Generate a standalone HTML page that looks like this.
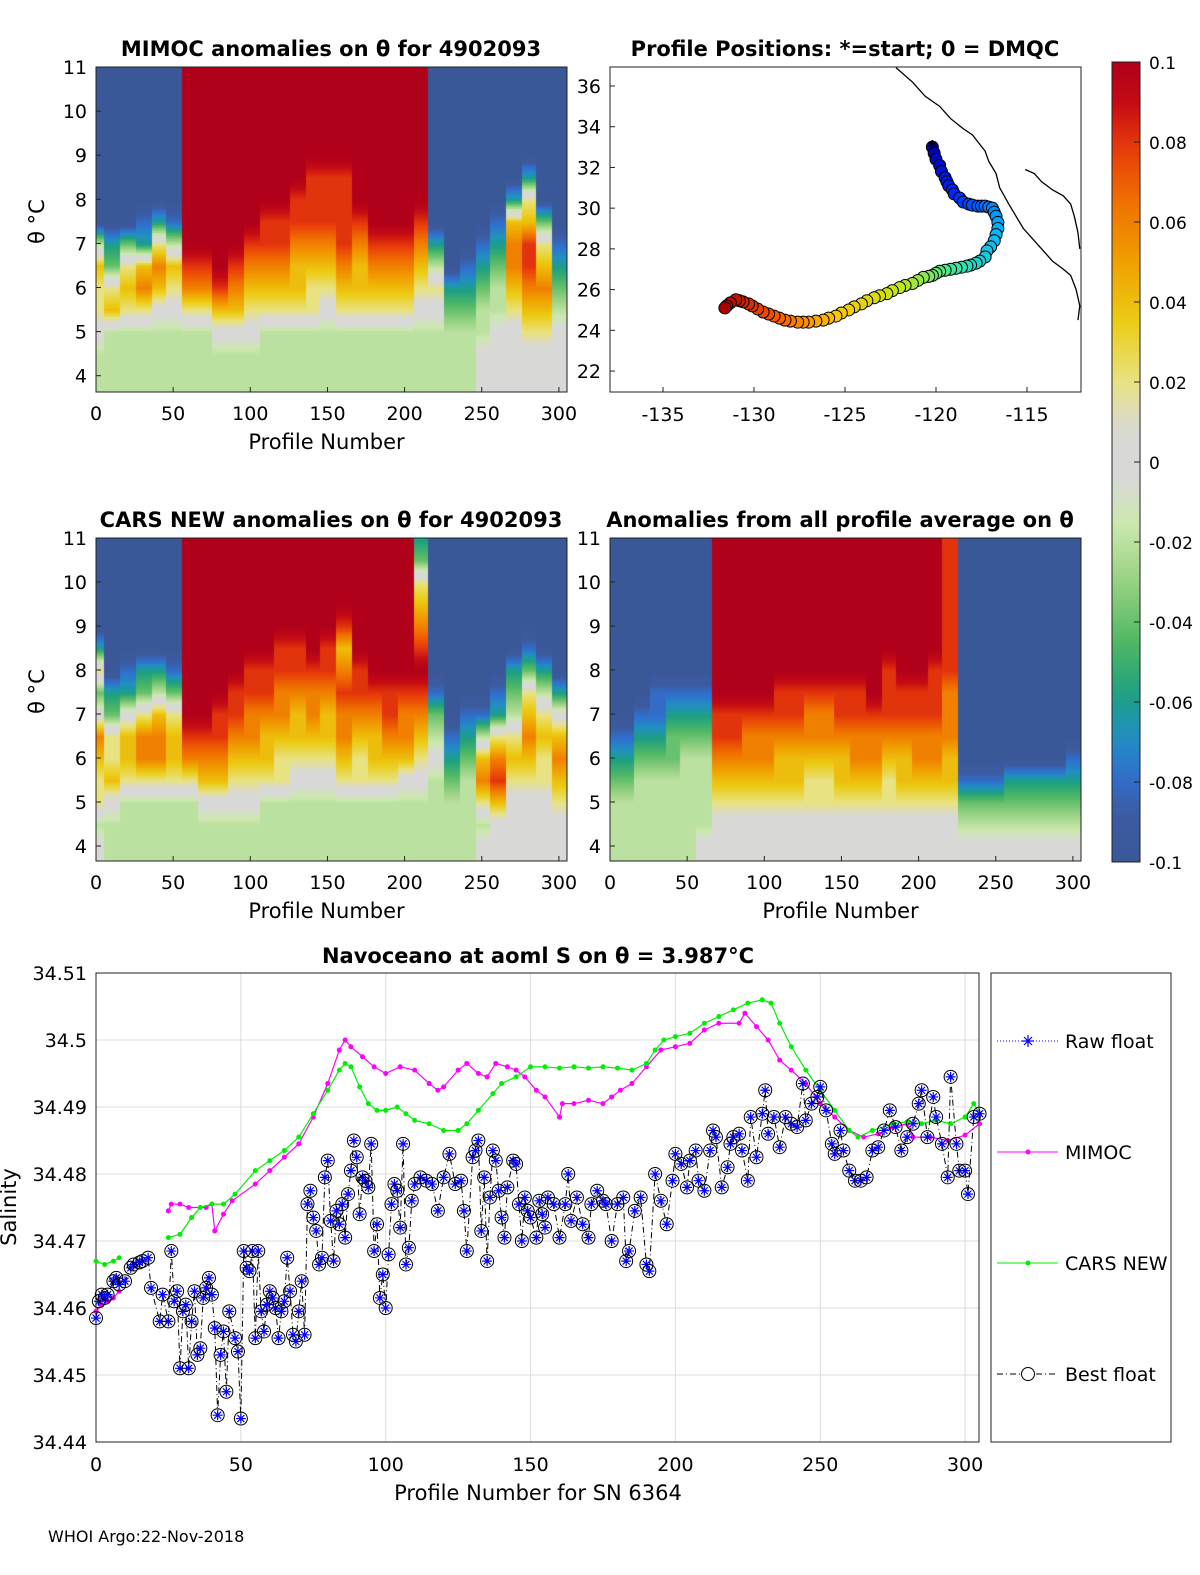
<!DOCTYPE html>
<html><head><meta charset="utf-8">
<style>
body{margin:0;background:#fff;width:1200px;height:1575px;position:relative;overflow:hidden;font-family:"Liberation Sans","DejaVu Sans",sans-serif}
canvas{position:absolute}
svg{position:absolute;left:0;top:0}
text{font-family:"DejaVu Sans","Liberation Sans",sans-serif}
</style></head><body>
<canvas id="c1" style="left:96px;top:67px" width="471" height="325"></canvas>
<canvas id="c3" style="left:96px;top:538px" width="471" height="323"></canvas>
<canvas id="c4" style="left:610px;top:538px" width="471" height="323"></canvas>
<svg id="s" width="1200" height="1575"></svg>
<script>
// ---------- data ----------
const heatProfiles=[0,10,20,30,40,50,60,70,80,90,100,110,120,130,140,150,160,170,180,190,200,210,220,230,240,250,260,270,280,290,300];
const heatLevels=[4,4.5,5,5.5,6,6.5,7,7.5,8,8.5,9,9.5,10,10.5,11];
const mimocGrid=[
[-1,-1,0,1,1,2,-1,-5,-5,-5,-5,-5,-5,-5,-5],[-1,-1,-1,2,1,-2,-3,-5,-5,-5,-5,-5,-5,-5,-5],
[-1,-1,-1,1,2,1,-2,-5,-5,-5,-5,-5,-5,-5,-5],[-1,-1,-1,1,3,2,-3,-4,-5,-5,-5,-5,-5,-5,-5],
[-1,-1,-1,0,2,3,1,-3,-5,-5,-5,-5,-5,-5,-5],[-1,-1,-1,0,1,2,-1,-4,-5,-5,-5,-5,-5,-5,-5],
[-1,-1,-1,1,3,4,5,5,5,5,5,5,5,5,5],[-1,-1,-1,1,3,4,5,5,5,5,5,5,5,5,5],
[-1,-1,0,2,4,5,5,5,5,5,5,5,5,5,5],[-1,-1,0,2,3,4,5,5,5,5,5,5,5,5,5],
[-1,-1,0,1,2,3,4,5,5,5,5,5,5,5,5],[-1,-1,-1,1,2,3,4,4,5,5,5,5,5,5,5],
[-1,-1,-1,1,2,3,4,4,5,5,5,5,5,5,5],[-1,-1,-1,1,2,2,3,4,4,5,5,5,5,5,5],
[-1,-1,-1,1,1,2,3,4,4,4,5,5,5,5,5],[-1,-1,-1,0,1,2,3,4,4,4,5,5,5,5,5],
[-1,-1,-1,1,2,3,4,4,4,4,5,5,5,5,5],[-1,-1,-1,1,2,2,3,4,5,5,5,5,5,5,5],
[-1,-1,-1,1,2,3,4,5,5,5,5,5,5,5,5],[-1,-1,-1,1,2,3,4,5,5,5,5,5,5,5,5],
[-1,-1,-1,1,2,3,4,5,5,5,5,5,5,5,5],[-1,-1,-1,0,1,2,3,4,5,5,5,5,5,5,5],
[-1,-1,-1,0,1,-1,-3,-5,-5,-5,-5,-5,-5,-5,-5],[-1,-1,-1,-2,-3,-5,-5,-5,-5,-5,-5,-5,-5,-5,-5],
[-1,-1,-1,-2,-3,-4,-5,-5,-5,-5,-5,-5,-5,-5,-5],[0,0,-1,-1,-2,-3,-4,-5,-5,-5,-5,-5,-5,-5,-5],
[0,0,0,-1,-1,-2,-3,-4,-5,-5,-5,-5,-5,-5,-5],[0,0,0,1,2,3,3,2,-3,-5,-5,-5,-5,-5,-5],
[0,0,1,2,3,4,4,2,1,-3,-5,-5,-5,-5,-5],[0,0,1,2,3,2,1,-2,-5,-5,-5,-5,-5,-5,-5],
[0,0,0,-1,-2,-3,-4,-5,-5,-5,-5,-5,-5,-5,-5]];
const carsGrid=[
[0,-1,1,1,2,3,0,-2,1,-3,-5,-5,-5,-5,-5],[-1,-1,0,2,1,1,-2,-3,-5,-5,-5,-5,-5,-5,-5],
[-1,-1,-1,1,2,2,0,-3,-4,-5,-5,-5,-5,-5,-5],[-1,-1,-1,1,3,3,1,-2,-3,-5,-5,-5,-5,-5,-5],
[-1,-1,-1,1,3,3,2,-1,-3,-5,-5,-5,-5,-5,-5],[-1,-1,-1,1,2,2,1,-2,-4,-5,-5,-5,-5,-5,-5],
[-1,-1,-1,1,3,4,5,5,5,5,5,5,5,5,5],[-1,-1,0,2,3,4,5,5,5,5,5,5,5,5,5],
[-1,-1,0,2,3,4,4,5,5,5,5,5,5,5,5],[-1,-1,0,1,2,3,4,4,5,5,5,5,5,5,5],
[-1,-1,0,1,2,3,3,4,4,5,5,5,5,5,5],[-1,-1,-1,1,2,2,3,4,4,5,5,5,5,5,5],
[-1,-1,-1,1,1,2,3,3,4,4,5,5,5,5,5],[-1,-1,-1,0,1,2,2,3,4,4,5,5,5,5,5],
[-1,-1,-1,0,1,2,3,3,4,5,5,5,5,5,5],[-1,-1,-1,0,1,2,2,3,4,4,5,5,5,5,5],
[-1,-1,-1,1,2,3,3,4,3,2,4,5,5,5,5],[-1,-1,-1,1,1,2,3,4,4,5,5,5,5,5,5],
[-1,-1,-1,1,2,2,3,4,5,5,5,5,5,5,5],[-1,-1,-1,1,2,3,4,4,5,5,5,5,5,5,5],
[-1,-1,-1,0,2,3,3,4,5,5,5,5,5,5,5],[-1,-1,-1,0,1,2,3,4,5,4,3,2,1,-2,-3],
[-1,-1,-1,-1,0,-1,-2,-4,-5,-5,-5,-5,-5,-5,-5],[-1,-1,-1,-2,-3,-4,-5,-5,-5,-5,-5,-5,-5,-5,-5],
[-1,-1,-1,-1,-2,-3,-4,-5,-5,-5,-5,-5,-5,-5,-5],[0,-1,1,3,2,-1,-4,-5,-5,-5,-5,-5,-5,-5,-5],
[0,0,2,4,3,1,-3,-4,-5,-5,-5,-5,-5,-5,-5],[0,0,0,1,2,1,-1,-2,-3,-5,-5,-5,-5,-5,-5],
[0,0,0,1,2,3,2,1,-2,-4,-5,-5,-5,-5,-5],[0,0,0,1,1,2,1,-1,-3,-5,-5,-5,-5,-5,-5],
[0,0,1,2,3,2,0,-3,-5,-5,-5,-5,-5,-5,-5]];
const avgGrid=[
[-1,-1,-1,-2,-3,-4,-5,-5,-5,-5,-5,-5,-5,-5,-5],[-1,-1,-1,-2,-3,-4,-5,-5,-5,-5,-5,-5,-5,-5,-5],
[-1,-1,-1,-1,-2,-3,-4,-5,-5,-5,-5,-5,-5,-5,-5],[-1,-1,-1,-1,-2,-3,-4,-4,-5,-5,-5,-5,-5,-5,-5],
[-1,-1,-1,-1,-2,-2,-3,-4,-5,-5,-5,-5,-5,-5,-5],[-1,-1,-1,-1,-1,-2,-3,-4,-5,-5,-5,-5,-5,-5,-5],
[0,-1,-1,-1,-1,-2,-3,-4,-5,-5,-5,-5,-5,-5,-5],[0,0,1,2,3,4,4,5,5,5,5,5,5,5,5],
[0,0,1,2,3,4,4,5,5,5,5,5,5,5,5],[0,0,1,2,3,3,4,5,5,5,5,5,5,5,5],
[0,0,1,2,3,3,4,5,5,5,5,5,5,5,5],[0,0,1,2,2,3,4,4,5,5,5,5,5,5,5],
[0,0,1,2,2,3,4,4,5,5,5,5,5,5,5],[0,0,1,1,2,3,3,4,5,5,5,5,5,5,5],
[0,0,1,1,2,3,3,4,5,5,5,5,5,5,5],[0,0,1,2,2,3,4,4,5,5,5,5,5,5,5],
[0,0,1,2,3,3,4,4,5,5,5,5,5,5,5],[0,0,1,2,3,3,4,5,5,5,5,5,5,5,5],
[0,0,1,1,2,3,4,4,4,5,5,5,5,5,5],[0,0,1,2,2,3,4,4,5,5,5,5,5,5,5],
[0,0,1,2,3,3,4,4,5,5,5,5,5,5,5],[0,0,1,2,3,3,4,4,4,5,5,5,5,5,5],
[0,0,1,2,2,3,3,3,4,4,4,4,4,4,4],[0,-1,-2,-4,-5,-5,-5,-5,-5,-5,-5,-5,-5,-5,-5],
[0,-1,-2,-4,-5,-5,-5,-5,-5,-5,-5,-5,-5,-5,-5],[0,-1,-2,-4,-5,-5,-5,-5,-5,-5,-5,-5,-5,-5,-5],
[0,-1,-2,-3,-5,-5,-5,-5,-5,-5,-5,-5,-5,-5,-5],[0,-1,-2,-3,-5,-5,-5,-5,-5,-5,-5,-5,-5,-5,-5],
[0,-1,-2,-3,-5,-5,-5,-5,-5,-5,-5,-5,-5,-5,-5],[0,-1,-2,-3,-5,-5,-5,-5,-5,-5,-5,-5,-5,-5,-5],
[0,-1,-2,-3,-4,-5,-5,-5,-5,-5,-5,-5,-5,-5,-5]];
const colorbarTicks=[0.1,0.08,0.06,0.04,0.02,0,-0.02,-0.04,-0.06,-0.08,-0.1];
const trackLon=[-120.2,-120.1,-120,-119.8,-119.7,-119.5,-119.4,-119.3,-119.1,-119,-118.7,-118.5,-118.2,-118,-117.7,-117.5,-117.3,-117.1,-116.9,-116.8,-116.7,-116.6,-116.6,-116.7,-116.8,-117,-117.2,-117.3,-117.6,-117.8,-118.1,-118.3,-118.6,-118.9,-119.2,-119.5,-119.8,-120,-120.2,-120.4,-120.7,-121,-121.3,-121.7,-122,-122.4,-122.7,-123.1,-123.4,-123.8,-124.1,-124.5,-124.8,-125.2,-125.5,-125.9,-126.2,-126.6,-127,-127.3,-127.6,-128,-128.3,-128.6,-128.9,-129.2,-129.5,-129.8,-130.1,-130.3,-130.6,-130.8,-131,-131.3,-131.5,-131.6];
const trackLat=[33,32.7,32.4,32.1,31.8,31.5,31.3,31.1,30.9,30.7,30.5,30.3,30.2,30.15,30.1,30.1,30.1,30.05,30,29.8,29.6,29.3,29,28.7,28.4,28.1,27.9,27.6,27.4,27.3,27.2,27.15,27.1,27.05,27,26.95,26.9,26.8,26.7,26.65,26.6,26.45,26.3,26.2,26.1,25.95,25.8,25.7,25.6,25.45,25.3,25.15,25,24.85,24.7,24.6,24.5,24.45,24.4,24.4,24.4,24.45,24.5,24.6,24.7,24.8,24.9,25.05,25.2,25.3,25.4,25.45,25.5,25.35,25.2,25.1];
const coastLon=[-122.2,-121.3,-120.6,-119.8,-119.2,-118.5,-118,-117.3,-117.1,-116.7,-116.5,-116,-115.6,-115.2,-114.7,-114.3,-114,-113.6,-113,-112.6,-112.3,-112.1,-112.2];
const coastLat=[36.9,36.2,35.5,35,34.4,33.9,33.6,32.8,32.3,31.7,31,30.2,29.6,29,28.5,28.1,27.8,27.4,27,26.7,26,25.2,24.5];
const gulfLon=[-115.1,-114.6,-114.2,-113.6,-113,-112.6,-112.4,-112.2,-112.1];
const gulfLat=[31.9,31.7,31.3,30.9,30.6,30.2,29.6,28.8,28];
const bestP=[0,1,2,3,4,6,7,8,10,12,13,15,16,18,19,22,23,25,26,27,28,29,30,31,32,33,34,35,36,37,38,39,40,41,42,43,44,45,46,48,49,50,51,52,53,54,55,56,57,58,59,60,61,62,63,64,65,66,67,68,69,70,71,72,73,74,75,76,77,78,79,80,81,82,83,84,85,86,87,88,89,90,91,92,93,94,95,96,97,98,99,100,101,102,103,104,105,106,107,108,109,110,112,114,116,118,120,122,124,126,127,128,130,131,132,133,134,135,136,137,138,139,140,141,142,144,145,146,147,148,149,150,152,153,154,155,156,158,160,162,163,164,166,168,170,171,173,175,176,178,180,182,183,184,186,188,190,191,193,195,197,199,200,202,204,205,207,208,210,212,213,214,216,218,219,220,222,223,225,226,228,230,231,232,234,236,238,240,242,244,245,247,249,250,252,254,255,257,258,260,262,264,266,268,270,272,274,276,278,280,282,284,285,287,289,290,292,294,295,297,298,300,301,303,305];
const bestS=[34.4585,34.461,34.462,34.4615,34.462,34.464,34.4645,34.4635,34.464,34.466,34.4665,34.4668,34.467,34.4675,34.463,34.458,34.462,34.458,34.4685,34.461,34.4625,34.451,34.4595,34.4605,34.451,34.458,34.4625,34.453,34.454,34.4615,34.463,34.4645,34.462,34.457,34.444,34.453,34.4565,34.4475,34.4595,34.4555,34.4535,34.4435,34.4685,34.466,34.4655,34.4685,34.4555,34.4685,34.4595,34.4565,34.4605,34.4625,34.4615,34.46,34.4555,34.4595,34.461,34.4675,34.4625,34.456,34.455,34.4595,34.464,34.456,34.4755,34.4775,34.4735,34.4715,34.4665,34.4675,34.4795,34.482,34.473,34.467,34.4745,34.4725,34.4755,34.4705,34.477,34.4805,34.485,34.4825,34.474,34.4795,34.479,34.478,34.4845,34.4685,34.4725,34.4615,34.465,34.46,34.468,34.4755,34.4785,34.4775,34.472,34.4845,34.4665,34.469,34.476,34.4785,34.4795,34.479,34.4785,34.4745,34.4795,34.483,34.4785,34.479,34.4745,34.4685,34.4825,34.4835,34.485,34.4715,34.4795,34.467,34.4765,34.4835,34.482,34.4775,34.4735,34.4705,34.478,34.482,34.4815,34.4755,34.47,34.4765,34.4745,34.4735,34.4705,34.476,34.474,34.472,34.4765,34.4755,34.4705,34.4755,34.48,34.473,34.4765,34.4725,34.4705,34.4755,34.4775,34.476,34.4755,34.47,34.4755,34.4765,34.467,34.4685,34.4745,34.4765,34.4665,34.4655,34.48,34.476,34.4725,34.479,34.483,34.4815,34.478,34.482,34.4835,34.479,34.4775,34.4835,34.4865,34.4855,34.478,34.481,34.4845,34.4855,34.486,34.4835,34.479,34.4885,34.4825,34.489,34.4925,34.486,34.4885,34.484,34.4885,34.4875,34.487,34.4935,34.488,34.4905,34.4915,34.493,34.4895,34.4845,34.483,34.4865,34.4835,34.4805,34.479,34.479,34.4795,34.4835,34.484,34.4865,34.4895,34.487,34.4835,34.4855,34.4875,34.4905,34.4925,34.4855,34.4915,34.4885,34.4845,34.4795,34.4945,34.4845,34.4805,34.4805,34.477,34.4885,34.489];
const mimocP=[[0,2,4,6,8],[25,26,29,32,38,40,41,44,47,55,60,65,70,75,80,84,86,88,92,96,100,105,110,115,118,120,125,128,132,135,138,142,145,148,152,155,160,161,165,170,175,178,181,185,190,195,200,205,210,215,222,224,228,232,236,240,245,250,255,260,265,270,275,280,282,288,294,300,305]];
const mimocS=[[34.4595,34.4605,34.461,34.4615,34.4625],[34.4745,34.4755,34.4755,34.475,34.475,34.4755,34.4715,34.474,34.476,34.4785,34.4805,34.4825,34.4845,34.4885,34.4935,34.4985,34.5,34.499,34.4975,34.496,34.495,34.496,34.4955,34.4935,34.4925,34.493,34.4955,34.4965,34.495,34.4945,34.4965,34.496,34.4955,34.4945,34.4925,34.4915,34.4885,34.4905,34.4905,34.491,34.4905,34.4915,34.4925,34.4935,34.496,34.4985,34.499,34.4995,34.5015,34.5025,34.5025,34.504,34.502,34.5,34.497,34.4955,34.4935,34.4905,34.4885,34.4865,34.4855,34.486,34.487,34.4875,34.4855,34.4855,34.485,34.4858,34.4875]];
const carsP=[[0,3,6,8],[25,29,33,36,40,44,48,55,60,65,70,75,80,84,86,88,91,94,97,100,104,107,110,115,120,125,128,132,137,140,145,150,155,160,165,170,175,180,185,190,193,196,200,205,210,215,220,225,230,233,236,240,245,250,255,260,263,268,275,280,285,290,295,300,303,305]];
const carsS=[[34.467,34.4665,34.467,34.4675],[34.4705,34.471,34.4735,34.475,34.4755,34.4755,34.477,34.4805,34.482,34.4835,34.4855,34.489,34.4925,34.4955,34.4965,34.496,34.493,34.4905,34.4895,34.4895,34.49,34.489,34.488,34.4875,34.4865,34.4865,34.4875,34.4895,34.492,34.4935,34.4945,34.496,34.496,34.4958,34.496,34.4958,34.496,34.4958,34.4955,34.4965,34.4985,34.5,34.5005,34.501,34.5025,34.5035,34.5045,34.5055,34.506,34.5055,34.5025,34.499,34.4955,34.4925,34.4895,34.4865,34.4855,34.4865,34.4875,34.4878,34.4875,34.488,34.4875,34.4885,34.4905,34.489]];
const salTicks=[34.44,34.45,34.46,34.47,34.48,34.49,34.5,34.51];
const profTicks=[0,50,100,150,200,250,300];
const thetaTicks=[4,5,6,7,8,9,10,11];

// ---------- colormaps ----------
const stops=[[-0.1,[58,88,152]],[-0.088,[60,90,160]],[-0.078,[48,112,208]],[-0.068,[32,144,192]],[-0.058,[30,160,128]],[-0.045,[80,184,100]],[-0.03,[150,210,130]],[-0.015,[205,232,175]],[-0.004,[216,216,216]],[0.008,[216,216,214]],[0.02,[232,226,130]],[0.035,[236,204,20]],[0.05,[240,160,0]],[0.065,[240,112,0]],[0.078,[232,60,10]],[0.09,[196,10,20]],[0.1,[176,0,26]]];
function cmap(v){v=Math.max(-0.1,Math.min(0.1,v));for(let i=1;i<stops.length;i++){if(v<=stops[i][0]){const a=stops[i-1],b=stops[i],t=(v-a[0])/(b[0]-a[0]);return 'rgb('+a[1].map((c,k)=>Math.round(c+(b[1][k]-c)*t)).join(',')+')';}}return 'rgb(176,0,26)';}
const jetStops=[[0,[0,0,170]],[0.12,[0,40,255]],[0.3,[0,180,255]],[0.45,[60,230,160]],[0.6,[200,230,20]],[0.72,[250,200,0]],[0.85,[250,90,0]],[1,[170,0,0]]];
function jet(t){for(let i=1;i<jetStops.length;i++){if(t<=jetStops[i][0]){const a=jetStops[i-1],b=jetStops[i],f=(t-a[0])/(b[0]-a[0]);return 'rgb('+a[1].map((c,k)=>Math.round(c+(b[1][k]-c)*f)).join(',')+')';}}return 'rgb(170,0,0)';}
function gridVal(g,p,th){
  const ci=Math.max(0,Math.min(30,Math.round(p/10)));
  let ri=(th-4)/0.5;ri=Math.max(0,Math.min(14,ri));const r0=Math.floor(ri),r1=Math.min(14,r0+1),fr=ri-r0;
  return (g[ci][r0]*(1-fr)+g[ci][r1]*fr)*0.02;}
function drawHeat(id,g,pxPerDeg){
  const cv=document.getElementById(id),ctx=cv.getContext('2d');
  for(let x=0;x<cv.width;x+=2){const p=x/1.543;
    for(let y=0;y<cv.height;y+=2){const th=11-y/pxPerDeg;
      ctx.fillStyle=cmap(gridVal(g,p,th));ctx.fillRect(x,y,2,2);}}}
drawHeat('c1',mimocGrid,44.1);
drawHeat('c3',carsGrid,44);
drawHeat('c4',avgGrid,44);

// ---------- svg ----------
const S=document.getElementById('s');const NS='http://www.w3.org/2000/svg';
function el(tag,attrs,parent){const e=document.createElementNS(NS,tag);for(const k in attrs)e.setAttribute(k,attrs[k]);(parent||S).appendChild(e);return e;}
function txt(x,y,s,size,anchor,weight,name){const t=el('text',{x:x,y:y,'font-size':size,'text-anchor':anchor||'start','font-weight':weight||'normal',fill:'#000'});t.textContent=s;


return t;}

function heatAxes(x0,y0,w,h,pxDeg,yLab,xLab,titleX,title){
  el('rect',{x:x0,y:y0,width:w,height:h,fill:'none',stroke:'#222','stroke-width':1});
  profTicks.forEach(p=>{const x=x0+p*1.543;el('line',{x1:x,x2:x,y1:y0+h,y2:y0+h-5,stroke:'#222'});
    txt(x,y0+h+28,String(p),19,'middle','normal','x-tick-label');});
  thetaTicks.forEach(t=>{const y=y0+(11-t)*pxDeg;el('line',{x1:x0,x2:x0+5,y1:y,y2:y,stroke:'#222'});
    txt(x0-9,y+7,String(t),19,'end','normal','y-tick-label');});
  if(xLab)txt(x0+w/2-5,y0+h+57,'Profile Number',21,'middle','normal','x-axis-title');
  if(yLab){const t=txt(0,0,'θ °C',21,'middle','normal','y-axis-title');t.setAttribute('transform','translate('+(x0-52)+','+(y0+h/2-8)+') rotate(-90)');}
  txt(titleX,y0-11,title,21,'middle','bold','panel-title');
}
heatAxes(96,67,471,325,44.1,true,true,331,'MIMOC anomalies on θ  for 4902093');
heatAxes(96,538,471,323,44,true,true,331,'CARS NEW anomalies on θ for 4902093');
heatAxes(610,538,471,323,44,false,true,840,'Anomalies from all profile average on θ');

// map
const mx=lon=>663+(lon+135)*18.2, my=lat=>86+(36-lat)*20.36;
el('rect',{x:610,y:67,width:471,height:325,fill:'#fff',stroke:'#222'});
[-135,-130,-125,-120,-115].forEach(l=>{const x=mx(l);el('line',{x1:x,x2:x,y1:392,y2:387,stroke:'#222'});txt(x,421,String(l),19,'middle','normal','map-x-tick');});
[22,24,26,28,30,32,34,36].forEach(l=>{const y=my(l);el('line',{x1:610,x2:615,y1:y,y2:y,stroke:'#222'});txt(601,y+7,String(l),19,'end','normal','map-y-tick');});
txt(845,56,'Profile Positions: *=start; 0 = DMQC',21,'middle','bold','map-title');
const coast=el('polyline',{points:coastLon.map((l,i)=>mx(l)+','+my(coastLat[i])).join(' '),fill:'none',stroke:'#000','stroke-width':1.3});

const gulf=el('polyline',{points:gulfLon.map((l,i)=>mx(l)+','+my(gulfLat[i])).join(' '),fill:'none',stroke:'#000','stroke-width':1.3});

const nT=trackLon.length;
trackLon.forEach((l,i)=>{const c=el('circle',{cx:mx(l),cy:my(trackLat[i]),r:6,fill:jet(i/(nT-1)),stroke:'#000','stroke-width':1});
});
txt(mx(trackLon[0]),my(trackLat[0])+6,'*',18,'middle','bold','start-marker');

// colorbar
const defs=el('defs',{});const lg=el('linearGradient',{id:'cb',x1:0,y1:1,x2:0,y2:0},defs);
for(let i=0;i<=40;i++){const v=-0.1+0.2*i/40;el('stop',{offset:(i/40),'stop-color':cmap(v)},lg);}
const cb=el('rect',{x:1112,y:62,width:28,height:800,fill:'url(#cb)',stroke:'#222'});

colorbarTicks.forEach(v=>{const y=62+(0.1-v)/0.2*800;el('line',{x1:1134,x2:1140,y1:y,y2:y,stroke:'#222'});txt(1149,y+7,String(v),17,'start','normal','colorbar-tick');});

// bottom chart
const sx=p=>96+p*2.897, sy=v=>973+(34.51-v)*6700;
el('rect',{x:96,y:973,width:883,height:469,fill:'#fff',stroke:'#222'});
profTicks.forEach(p=>{const x=sx(p);el('line',{x1:x,x2:x,y1:973,y2:1442,stroke:'#dcdcdc'});txt(x,1471,String(p),19,'middle','normal','x-tick-label');});
salTicks.forEach(v=>{const y=sy(v);el('line',{x1:96,x2:979,y1:y,y2:y,stroke:'#dcdcdc'});txt(87,y+7,String(v),19,'end','normal','y-tick-label');});
el('rect',{x:96,y:973,width:883,height:469,fill:'none',stroke:'#222'});
txt(538,1500,'Profile Number for SN 6364',21,'middle','normal','x-axis-title');
const yl=txt(0,0,'Salinity',21,'middle','normal','y-axis-title');yl.setAttribute('transform','translate(16,1207) rotate(-90)');
txt(538,963,'Navoceano at aoml S on θ = 3.987°C',21,'middle','bold','chart-title');
function series(Ps,Vs,color,name){Ps.forEach((P,k)=>{
  const pl=el('polyline',{points:P.map((p,i)=>sx(p)+','+sy(Vs[k][i])).join(' '),fill:'none',stroke:color,'stroke-width':1.2});
  
  P.forEach((p,i)=>{const c=el('circle',{cx:sx(p),cy:sy(Vs[k][i]),r:2.5,fill:color});
  });});}
series(mimocP,mimocS,'#ff00ff','mimoc');
series(carsP,carsS,'#00ee00','cars-new');
const bl=el('polyline',{points:bestP.map((p,i)=>sx(p)+','+sy(bestS[i])).join(' '),fill:'none',stroke:'#000','stroke-width':1,'stroke-dasharray':'6,3,1,3'});

function marker(x,y,parentName){
  const g=el('g',{});
  el('circle',{cx:x,cy:y,r:6.5,fill:'none',stroke:'#000','stroke-width':1},g);
  el('path',{d:`M${x-5},${y}H${x+5}M${x},${y-5}V${y+5}M${x-3.5},${y-3.5}L${x+3.5},${y+3.5}M${x-3.5},${y+3.5}L${x+3.5},${y-3.5}`,stroke:'#0000ff','stroke-width':1.2},g);}
bestP.forEach((p,i)=>marker(sx(p),sy(bestS[i]),'best-float-point'));

// legend
const lgBox=el('rect',{x:991,y:973,width:180,height:469,fill:'#fff',stroke:'#222'});

el('line',{x1:997,x2:1058,y1:1041,y2:1041,stroke:'#0000ff','stroke-dasharray':'1,2'});
el('path',{d:'M1022,1041h12M1028,1035v12M1024,1037l8,8M1024,1045l8,-8',stroke:'#0000ff','stroke-width':1.2});
txt(1065,1048,'Raw float',19,'start','normal','legend-raw-float');
el('line',{x1:997,x2:1058,y1:1152,y2:1152,stroke:'#ff00ff'});el('circle',{cx:1028,cy:1152,r:2.5,fill:'#ff00ff'});
txt(1065,1159,'MIMOC',19,'start','normal','legend-mimoc');
el('line',{x1:997,x2:1058,y1:1263,y2:1263,stroke:'#00ee00'});el('circle',{cx:1028,cy:1263,r:2.5,fill:'#00ee00'});
txt(1065,1270,'CARS NEW',19,'start','normal','legend-cars-new');
el('line',{x1:997,x2:1058,y1:1374,y2:1374,stroke:'#000','stroke-dasharray':'6,3,1,3'});el('circle',{cx:1028,cy:1374,r:6.5,fill:'#fff',stroke:'#000'});
txt(1065,1381,'Best float',19,'start','normal','legend-best-float');
txt(48,1542,'WHOI Argo:22-Nov-2018',16,'start','normal','footer');
</script>
</body></html>
